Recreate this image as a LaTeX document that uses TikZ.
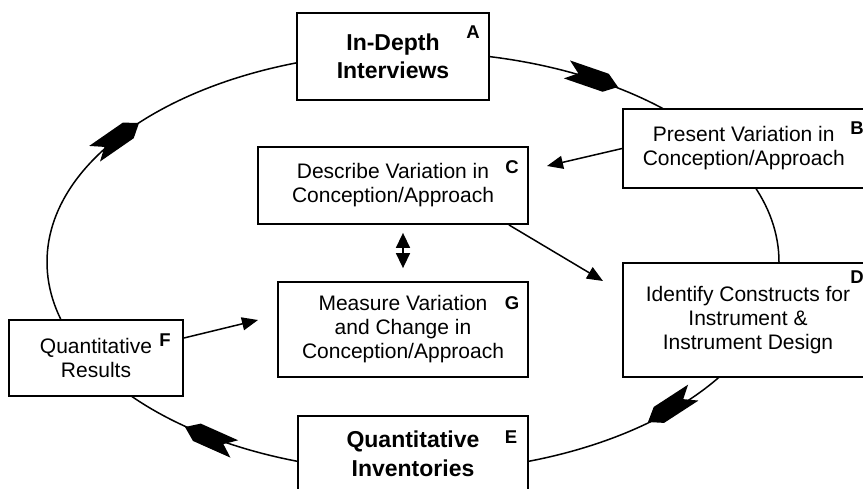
\documentclass[tikz,border=0pt]{standalone}
\usepackage{fontspec}
\setmainfont{Liberation Sans}
\usetikzlibrary{arrows.meta}
\begin{document}
\begin{tikzpicture}[x=1pt,y=-1pt,
  box/.style={draw, line width=1.8pt, fill=white, align=center, inner sep=0pt, font=\fontsize{21}{24}\selectfont},
  boldbox/.style={box, font=\fontsize{23}{28.5}\selectfont\bfseries},
  tag/.style={font=\fontsize{18.5}{20}\selectfont\bfseries, inner sep=0pt},
  conn/.style={line width=1.5pt, -{Triangle[length=16pt,width=13pt]}},
  twoway/.style={line width=1.5pt, {Triangle[length=15pt,width=14pt]}-{Triangle[length=15pt,width=14pt]}},
  cycle/.style={line width=1.5pt},
  fatarrow/.pic={\fill (0,0) -- (-13,9.5) -- (-54,9.5) -- (-42,0) -- (-54,-9.5) -- (-13,-9.5) -- cycle;}
]
\useasboundingbox (0,0) rectangle (863,488);
% cycle
\coordinate (O) at (413,262);
\draw[cycle] (O) ellipse [x radius=366pt, y radius=210pt];
\pic[rotate=-19] at (618,87) {fatarrow};
\pic[rotate=-147] at (648,422) {fatarrow};
\pic[rotate=156] at (185,427) {fatarrow};
\pic[rotate=34.7] at (139,123) {fatarrow};
% boxes
\node[boldbox, minimum width=192pt, minimum height=87pt] (A) at (393,56.5) {In-Depth\\Interviews};
\node[box, minimum width=241.5pt, minimum height=79pt] (B) at (743.75,148.5) {Present Variation in\\Conception/Approach};
\node[box, minimum width=270pt, minimum height=77pt] (C) at (393,185.5) {Describe Variation in\\Conception/Approach};
\node[box, minimum width=250pt, minimum height=114pt] (D) at (748,320) {Identify Constructs for\\Instrument \&\\Instrument Design};
\node[boldbox, minimum width=230pt, minimum height=76pt] (E) at (413,454) {Quantitative\\Inventories};
\node[box, minimum width=174pt, minimum height=76pt] (F) at (96,358) {Quantitative\\Results};
\node[box, minimum width=250pt, minimum height=95pt] (G) at (403,329.5) {Measure Variation\\and Change in\\Conception/Approach};
% letters
\node[tag] (lA) at (473,32) {A};
\node[tag] (lB) at (857,128) {B};
\node[tag] (lC) at (512,167) {C};
\node[tag] (lD) at (857,277) {D};
\node[tag] (lE) at (511,437) {E};
\node[tag] (lF) at (165,340) {F};
\node[tag] (lG) at (512,303) {G};
% connectors
\coordinate (bc) at (547,166);
\draw[conn] (B.west) -- (bc);
\coordinate (cd) at (603,281);
\draw[conn] ([xshift=-20pt]C.south east) -- (cd);
\coordinate (fg) at (258,320);
\draw[conn] ([yshift=20pt]F.east) -- (fg);
\draw[twoway, shorten <=8pt, shorten >=13pt] (G.north |- C.south) -- (G.north);
\end{tikzpicture}
\end{document}
